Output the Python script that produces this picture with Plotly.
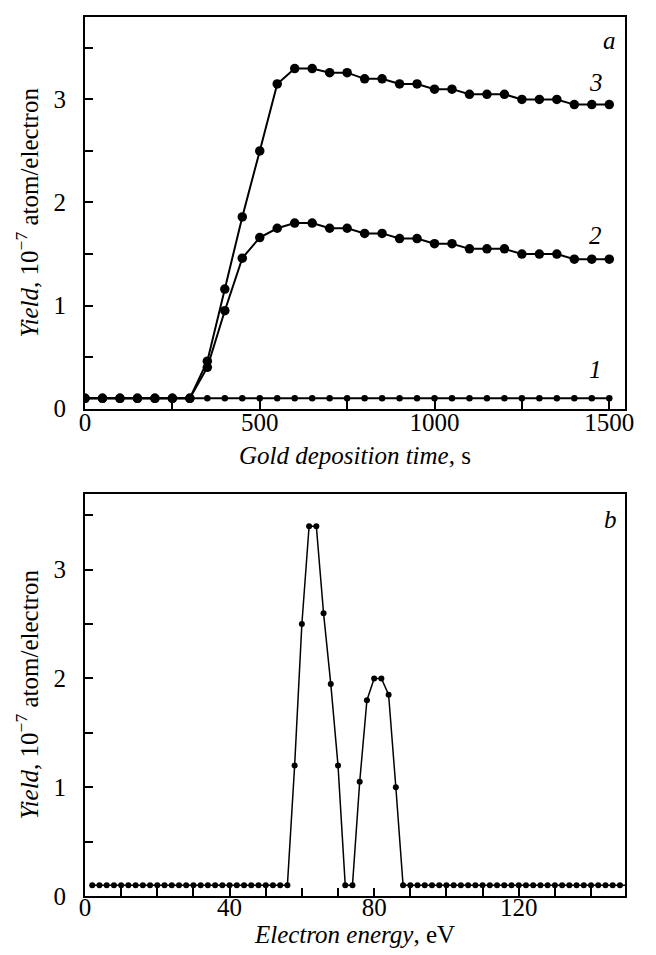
import plotly.graph_objects as go

# ---- Panel a: yield vs gold deposition time ----
time_s = [0, 50, 100, 150, 200, 250, 300, 350, 400, 450, 500, 550, 600, 650, 700, 750,
          800, 850, 900, 950, 1000, 1050, 1100, 1150, 1200, 1250, 1300, 1350, 1400, 1450, 1500]
yield_1 = [0.1, 0.1, 0.1, 0.1, 0.1, 0.1, 0.1, 0.1, 0.1, 0.1, 0.1, 0.1, 0.1, 0.1, 0.1, 0.1,
           0.1, 0.1, 0.1, 0.1, 0.1, 0.1, 0.1, 0.1, 0.1, 0.1, 0.1, 0.1, 0.1, 0.1, 0.1]
yield_2 = [0.1, 0.1, 0.1, 0.1, 0.1, 0.1, 0.1, 0.40, 0.95, 1.46, 1.66, 1.75, 1.80, 1.80, 1.75, 1.75,
           1.70, 1.70, 1.65, 1.65, 1.60, 1.60, 1.55, 1.55, 1.55, 1.50, 1.50, 1.50, 1.45, 1.45, 1.45]
yield_3 = [0.1, 0.1, 0.1, 0.1, 0.1, 0.1, 0.1, 0.46, 1.16, 1.86, 2.50, 3.15, 3.30, 3.30, 3.26, 3.26,
           3.20, 3.20, 3.15, 3.15, 3.10, 3.10, 3.05, 3.05, 3.05, 3.00, 3.00, 3.00, 2.95, 2.95, 2.95]

# ---- Panel b: yield vs electron energy ----
energy_ev = [2, 4, 6, 8, 10, 12, 14, 16, 18, 20, 22, 24, 26, 28, 30, 32, 34, 36, 38, 40,
             42, 44, 46, 48, 50, 52, 54, 56, 58, 60, 62, 64, 66, 68, 70, 72, 74, 76, 78, 80,
             82, 84, 86, 88, 90, 92, 94, 96, 98, 100, 102, 104, 106, 108, 110, 112, 114, 116, 118, 120,
             122, 124, 126, 128, 130, 132, 134, 136, 138, 140, 142, 144, 146, 148, 150]
yield_e = [0.1, 0.1, 0.1, 0.1, 0.1, 0.1, 0.1, 0.1, 0.1, 0.1, 0.1, 0.1, 0.1, 0.1, 0.1, 0.1, 0.1, 0.1, 0.1, 0.1,
           0.1, 0.1, 0.1, 0.1, 0.1, 0.1, 0.1, 0.1, 1.2, 2.5, 3.4, 3.4, 2.6, 1.95, 1.2, 0.1, 0.1, 1.05, 1.8, 2.0,
           2.0, 1.85, 1.0, 0.1, 0.1, 0.1, 0.1, 0.1, 0.1, 0.1, 0.1, 0.1, 0.1, 0.1, 0.1, 0.1, 0.1, 0.1, 0.1, 0.1,
           0.1, 0.1, 0.1, 0.1, 0.1, 0.1, 0.1, 0.1, 0.1, 0.1, 0.1, 0.1, 0.1, 0.1, 0.1]

# tick definitions
xa_tickvals = [0, 500, 1000, 1500]
xb_tickvals = [0, 40, 80, 120]
y_tickvals = [0, 1, 2, 3]

FONT = "Liberation Serif"
BLACK = "#000000"
FS = 25

fig = go.Figure()

for ys in (yield_2, yield_3):
    fig.add_trace(go.Scatter(x=time_s, y=ys, mode="lines+markers", xaxis="x", yaxis="y",
                             line=dict(color=BLACK, width=2),
                             marker=dict(color=BLACK, size=9.5),
                             showlegend=False, cliponaxis=True))
fig.add_trace(go.Scatter(x=time_s, y=yield_1, mode="lines+markers", xaxis="x", yaxis="y",
                         line=dict(color=BLACK, width=2),
                         marker=dict(color=BLACK, size=6.5),
                         showlegend=False, cliponaxis=True))

fig.add_trace(go.Scatter(x=energy_ev, y=yield_e, mode="lines+markers", xaxis="x2", yaxis="y2",
                         line=dict(color=BLACK, width=1.5),
                         marker=dict(color=BLACK, size=6),
                         showlegend=False, cliponaxis=False))

axis_common = dict(showline=True, linewidth=2, linecolor=BLACK, mirror=True,
                   ticks="inside", ticklen=8, tickwidth=1.5, tickcolor=BLACK,
                   showgrid=False, zeroline=False, tickmode="array", automargin=False,
                   tickfont=dict(family=FONT, size=FS, color=BLACK))


def minor(d):
    return dict(dtick=d, tick0=0, ticks="inside", ticklen=8, tickwidth=1.5,
                tickcolor=BLACK, showgrid=False)


fig.update_layout(
    width=656, height=955,
    margin=dict(l=77, r=39, t=9, b=67),
    plot_bgcolor="white", paper_bgcolor="white",
    font=dict(family=FONT, size=FS, color=BLACK),
    xaxis=dict(axis_common, domain=[0, 1], range=[0, 1545], anchor="y",
               tickvals=xa_tickvals, minor=minor(250), ticklabelstandoff=-10,
               title=dict(text="<i>Gold deposition time</i>, s", standoff=12,
                          font=dict(family=FONT, size=FS))),
    yaxis=dict(axis_common, domain=[0.5545, 1], range=[0, 3.8], anchor="x",
               tickvals=y_tickvals, minor=minor(0.5), ticklabelstandoff=12,
               title=dict(text="<i>Yield</i>, 10<sup>−7</sup> atom/electron", standoff=8,
                          font=dict(family=FONT, size=FS))),
    xaxis2=dict(axis_common, domain=[0, 1], range=[0, 149.4], anchor="y2",
                tickvals=xb_tickvals, minor=minor(10), ticklabelstandoff=-12,
                title=dict(text="<i>Electron energy</i>, eV", standoff=3,
                           font=dict(family=FONT, size=FS))),
    yaxis2=dict(axis_common, domain=[0, 0.4579], range=[0, 3.7], anchor="x2",
                tickvals=y_tickvals, minor=minor(0.5), ticklabelstandoff=12,
                title=dict(text="<i>Yield</i>, 10<sup>−7</sup> atom/electron", standoff=8,
                           font=dict(family=FONT, size=FS))),
)

annots = [
    dict(text="<i>a</i>", x=1501, y=3.57, xref="x", yref="y"),
    dict(text="<i>3</i>", x=1461, y=3.16, xref="x", yref="y"),
    dict(text="<i>2</i>", x=1461, y=1.68, xref="x", yref="y"),
    dict(text="<i>1</i>", x=1461, y=0.376, xref="x", yref="y"),
    dict(text="<i>b</i>", x=145.3, y=3.46, xref="x2", yref="y2"),
]
for a in annots:
    fig.add_annotation(showarrow=False, font=dict(family=FONT, size=FS, color=BLACK), **a)

fig.write_html("out.html")
